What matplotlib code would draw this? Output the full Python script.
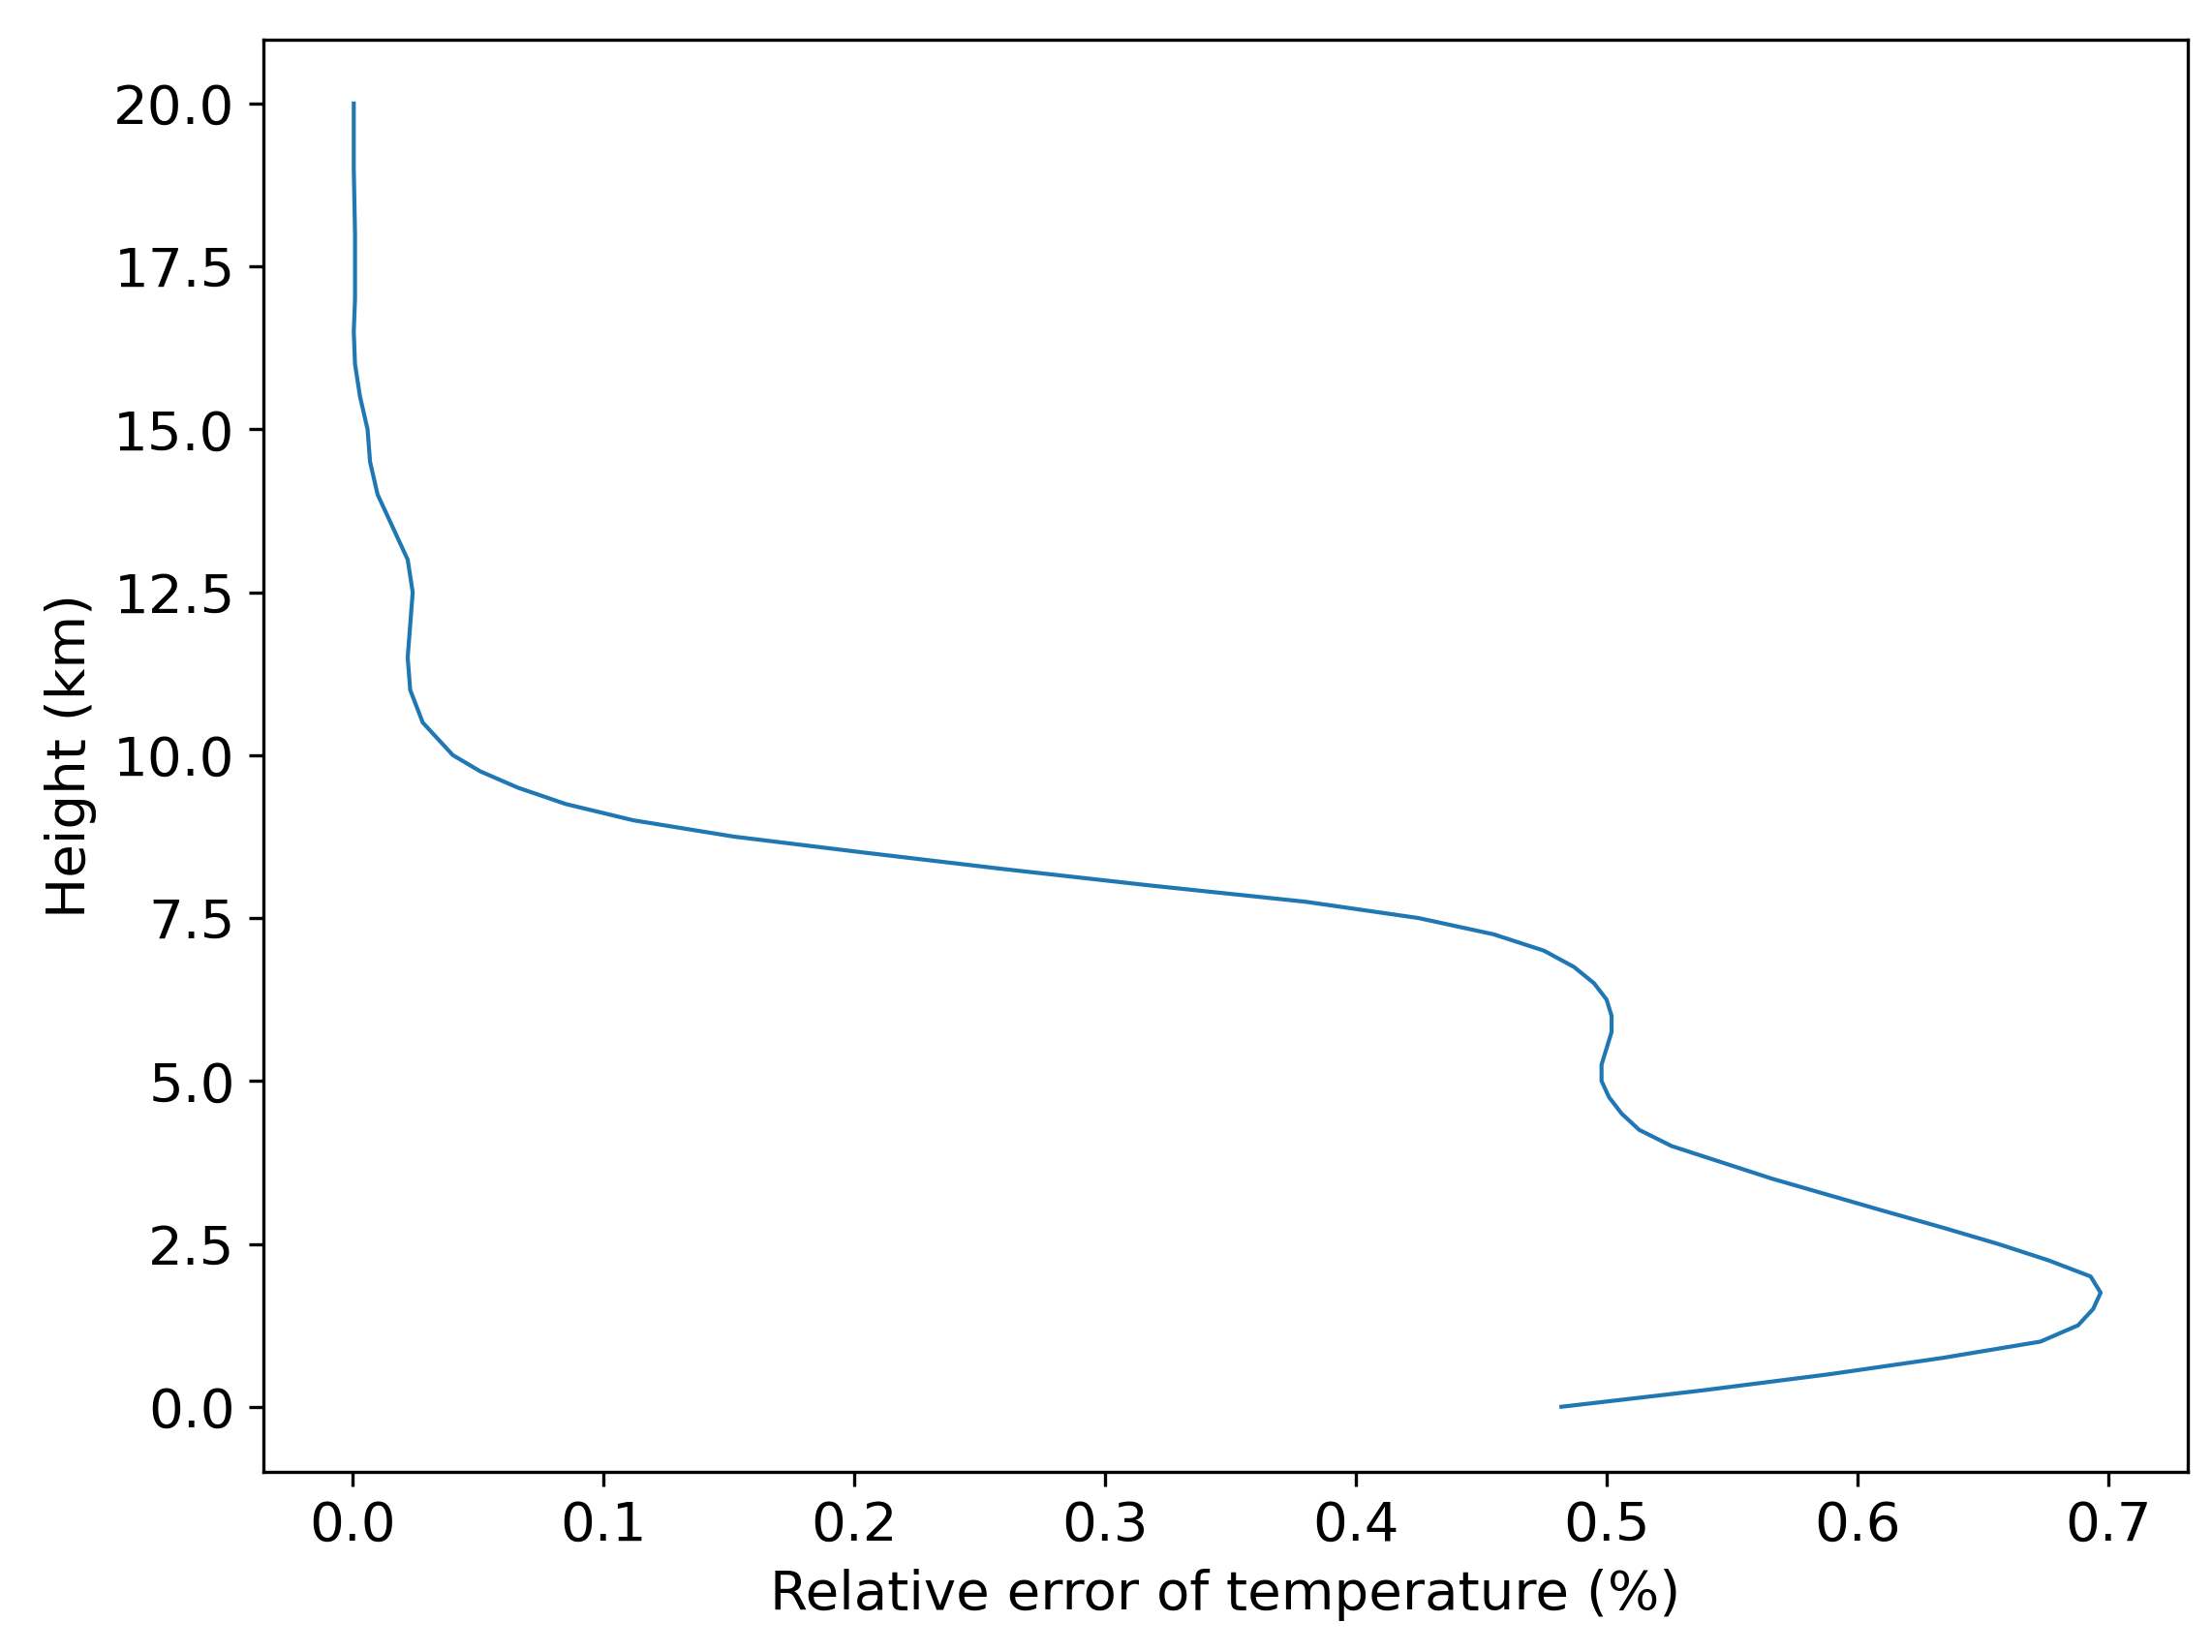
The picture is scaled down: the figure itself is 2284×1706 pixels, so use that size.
import matplotlib
matplotlib.use("Agg")
import matplotlib.pyplot as plt

plt.rcParams["font.size"] = 13.5

height = [0.0, 0.25, 0.5, 0.75, 1.0, 1.25, 1.5, 1.75, 2.0, 2.25, 2.5, 2.75, 3.0, 3.5, 4.0, 4.25, 4.5,
          4.75, 5.0, 5.25, 5.5, 5.75, 6.0, 6.25, 6.5, 6.75, 7.0, 7.25, 7.5, 7.75, 8.0, 8.25, 8.5,
          8.75, 9.0, 9.25, 9.5, 9.75, 10.0, 10.5, 11.0, 11.5, 12.0, 12.5, 13.0, 13.5, 14.0, 14.5,
          15.0, 15.5, 16.0, 16.5, 17.0, 18.0, 19.0, 20.0]
rel_error = [0.482, 0.538, 0.589, 0.634, 0.673, 0.688, 0.694, 0.697, 0.693, 0.676, 0.656, 0.634,
             0.611, 0.566, 0.526, 0.513, 0.506, 0.501, 0.498, 0.498, 0.500, 0.502, 0.502, 0.500,
             0.495, 0.487, 0.475, 0.455, 0.425, 0.380, 0.318, 0.260, 0.205, 0.152, 0.112, 0.085,
             0.066, 0.051, 0.040, 0.028, 0.023, 0.022, 0.023, 0.024, 0.022, 0.016, 0.010, 0.007,
             0.006, 0.003, 0.001, 0.0005, 0.001, 0.001, 0.0005, 0.0005]

fig = plt.figure(figsize=(2284/300, 1706/300), dpi=300)
ax = fig.add_axes([0.119, 0.109, 0.870, 0.867])
ax.plot(rel_error, height, color="#1f77b4", linewidth=1.0)
ax.set_xlim(-0.0356, 0.7317)
ax.set_ylim(-1.0, 20.98)
ax.set_yticks([0, 2.5, 5, 7.5, 10, 12.5, 15, 17.5, 20])
ax.set_xticks([0, 0.1, 0.2, 0.3, 0.4, 0.5, 0.6, 0.7])
ax.set_xlabel("Relative error of temperature (%)")
ax.set_ylabel("Height (km)")
fig.savefig("out.png", dpi=300)
